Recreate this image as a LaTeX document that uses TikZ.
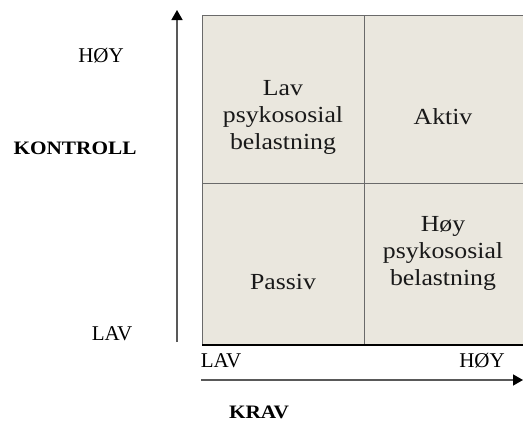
\documentclass[tikz,border=0pt]{standalone}
\usepackage{fontspec}
\setmainfont{Liberation Serif}[FakeStretch=1.12]
\newfontfamily\axisfont{Liberation Serif}
\usetikzlibrary{arrows.meta}
\definecolor{cellfill}{HTML}{EAE7DE}
\definecolor{gridline}{HTML}{6A6A6A}
\begin{document}
\begin{tikzpicture}[x=1pt,y=-1pt,
  celltext/.style={align=center,font=\fontsize{23}{27}\selectfont,text=black!90},
  axislabel/.style={font=\axisfont\fontsize{21}{24}\selectfont},
  axistitle/.style={font=\fontsize{19}{22}\selectfont\bfseries},
  axisarrow/.style={line width=1.4pt,draw=black!65,-{Triangle[length=10pt,width=11pt,color=black]}}]
\useasboundingbox (0,0) rectangle (523,423);
% grid
\fill[cellfill] (202,15) rectangle (523,345);
\draw[gridline,line width=1pt] (202,15) -- (523,15);
\draw[gridline,line width=1pt] (202,15) -- (202,345);
\draw[gridline,line width=1pt] (364,15) -- (364,345);
\draw[gridline,line width=1pt] (202,183) -- (523,183);
\draw[black,line width=1.2pt] (202,345) -- (523,345);
% cell texts
\node[celltext] (lav) at (283,117) {Lav\\psykososial\\belastning};
\node[celltext] (aktiv) at (443,117) {Aktiv};
\node[celltext] (passiv) at (283,282) {Passiv};
\node[celltext] (hoy) at (443,253) {Høy\\psykososial\\belastning};
% axes
\coordinate (vstart) at (177,342);
\coordinate (vend) at (177,10);
\coordinate (hstart) at (201,380);
\coordinate (hend) at (523,380);
\draw[axisarrow] (vstart) -- (vend);
\draw[axisarrow] (hstart) -- (hend);
% labels
\node[axislabel] (yhoy) at (101,56) {HØY};
\node[axistitle] (kontroll) at (75,148) {KONTROLL};
\node[axislabel] (ylav) at (112,334) {LAV};
\node[axislabel] (xlav) at (221,361) {LAV};
\node[axislabel] (xhoy) at (482,361) {HØY};
\node[axistitle] (krav) at (259,412) {KRAV};
\end{tikzpicture}
\end{document}
